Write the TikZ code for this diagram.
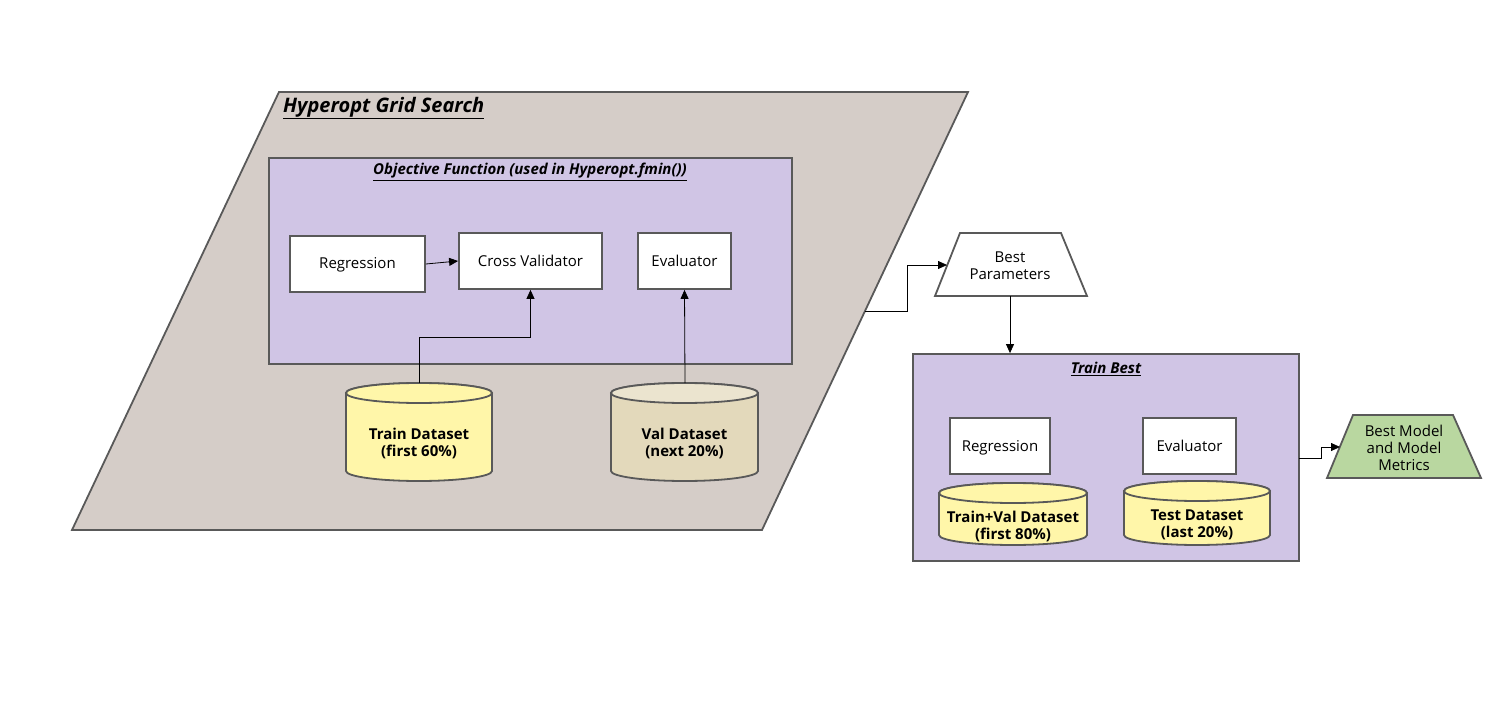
\documentclass[tikz,border=0pt]{standalone}
\usepackage{fontspec}
\setmainfont{Open Sans}
\usetikzlibrary{arrows.meta}
\definecolor{edge}{HTML}{595959}
\definecolor{parafill}{HTML}{D5CDC8}
\definecolor{purplefill}{HTML}{D0C5E5}
\definecolor{yellowfill}{HTML}{FFF6A9}
\definecolor{valfill}{HTML}{E3D9BB}
\definecolor{greenfill}{HTML}{B9D7A0}
\begin{document}
\begin{tikzpicture}[x=1pt,y=-1pt,
  shapeline/.style={draw=edge,line width=1.8pt,line join=miter},
  whitebox/.style={shapeline,fill=white,inner sep=0pt,font=\fontsize{15}{17}\selectfont,text height=11pt,text depth=1pt},
  groupbox/.style={shapeline,fill=purplefill,inner sep=0pt},
  conn/.style={draw=black,line width=0.8pt,-{Triangle[length=9pt,width=8pt]}},
  lbl/.style={inner sep=0pt,align=center,font=\fontsize{15}{17}\selectfont},
  dslbl/.style={inner sep=0pt,align=center,font=\fontsize{15}{17}\selectfont\bfseries},
  titlelbl/.style={inner sep=0pt,font=\fontsize{15}{18}\selectfont\bfseries\itshape}
]
\useasboundingbox (0,0) rectangle (1502,714);

% Hyperopt parallelogram
\draw[shapeline,fill=parafill] (279,92) -- (968,92) -- (762,530) -- (72,530) -- cycle;
\coordinate (pout) at (865,311);
\node[inner sep=0pt,anchor=west,font=\fontsize{20}{24}\selectfont\bfseries\itshape] (hgs) at (283,108) {\underline{Hyperopt Grid Search}};

% Objective function box
\node[groupbox,minimum width=523pt,minimum height=206pt] (obj) at (530.5,261) {};
\node[titlelbl] (objt) at (530,172) {\underline{Objective Function (used in Hyperopt.fmin())}};

\node[whitebox,minimum width=135pt,minimum height=56pt] (reg1) at (357.5,264) {Regression};
\node[whitebox,minimum width=143pt,minimum height=56pt] (cv) at (530.5,261) {Cross Validator};
\node[whitebox,minimum width=93pt,minimum height=56pt] (ev1) at (684.5,261) {Evaluator};

% Train dataset cylinder
\draw[shapeline,fill=yellowfill] (346,393) -- (346,471) arc[start angle=180,end angle=0,x radius=73,y radius=10] -- (492,393) arc[start angle=0,end angle=-180,x radius=73,y radius=10] -- cycle;
\draw[shapeline,fill=yellowfill] (419,393) ellipse[x radius=73,y radius=10];
\coordinate (trtop) at (419,383);
\node[dslbl] (trl) at (419,443.5) {Train Dataset\\(first 60\%)};

% Val dataset cylinder
\draw[shapeline,fill=valfill] (611,393) -- (611,471) arc[start angle=180,end angle=0,x radius=73.5,y radius=10] -- (758,393) arc[start angle=0,end angle=-180,x radius=73.5,y radius=10] -- cycle;
\draw[shapeline,fill=valfill!70!white] (684.5,393) ellipse[x radius=73.5,y radius=10];
\coordinate (valtop) at (685,383);
\node[dslbl] (vall) at (684.5,443.5) {Val Dataset\\(next 20\%)};

% connectors inside
\draw[conn] (reg1.east) -- (cv.west);
\draw[conn] (trtop) -- (419,337) -| (cv.south);
\draw[conn] (valtop) -- (ev1.south);

% Best parameters
\draw[shapeline,fill=white] (960,233) -- (1061,233) -- (1087,296) -- (935,296) -- cycle;
\coordinate (bpin) at (947,265);
\coordinate (bpout) at (1010,296);
\node[lbl] (bpl) at (1010,266) {Best\\Parameters};
\draw[conn] (pout) -- (907,311) |- (bpin);

% Train best
\node[groupbox,minimum width=386pt,minimum height=207pt] (tb) at (1106,457.5) {};
\node[titlelbl] (tbt) at (1106,369) {\underline{Train Best}};
\draw[conn] (bpout) -- (tb.north -| bpout);

\node[whitebox,minimum width=100pt,minimum height=56pt] (reg2) at (1000,446) {Regression};
\node[whitebox,minimum width=93pt,minimum height=56pt] (ev2) at (1189.5,446) {Evaluator};

\draw[shapeline,fill=yellowfill] (939,493) -- (939,535) arc[start angle=180,end angle=0,x radius=74,y radius=10] -- (1087,493) arc[start angle=0,end angle=-180,x radius=74,y radius=10] -- cycle;
\draw[shapeline,fill=yellowfill] (1013,493) ellipse[x radius=74,y radius=10];
\node[dslbl] (tvl) at (1013,526) {Train+Val Dataset\\(first 80\%)};

\draw[shapeline,fill=yellowfill] (1124,491) -- (1124,535) arc[start angle=180,end angle=0,x radius=73,y radius=10] -- (1270,491) arc[start angle=0,end angle=-180,x radius=73,y radius=10] -- cycle;
\draw[shapeline,fill=yellowfill] (1197,491) ellipse[x radius=73,y radius=10];
\node[dslbl] (tsl) at (1197,525) {Test Dataset\\(last 20\%)};

% Best model
\draw[shapeline,fill=greenfill] (1353,415) -- (1453,415) -- (1481,478) -- (1327,478) -- cycle;
\coordinate (bmin) at (1340,447);
\node[lbl] (bml) at (1404,448) {Best Model\\and Model\\Metrics};
\coordinate (tbout) at (1299,458);
\draw[conn] (tbout) -- (1321,458) |- (bmin);
\end{tikzpicture}
\end{document}
